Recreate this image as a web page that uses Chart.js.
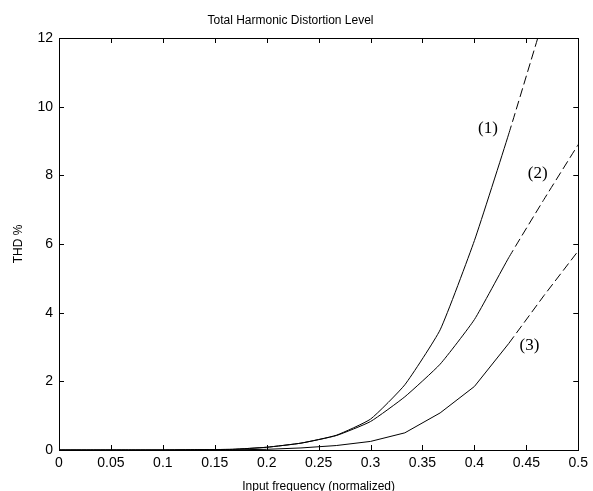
<!DOCTYPE html>
<html>
<head>
<meta charset="utf-8">
<title>Total Harmonic Distortion Level</title>
<script src="https://cdn.jsdelivr.net/npm/chart.js@4"></script>
<style>
    body { margin: 0; background: #fff; }
</style>
</head>
<body>
<canvas id="g_thd" width="593" height="491"></canvas>
<script>
// input frequency (normalized)
const freq = [0, 0.033, 0.067, 0.1, 0.133, 0.167, 0.2, 0.233, 0.267, 0.3, 0.333, 0.367, 0.4, 0.433, 0.467, 0.5];
// THD % for each curve
const thd1 = [0, 0, 0, 0, 0.01, 0.02, 0.08, 0.2, 0.43, 0.9, 1.9, 3.5, 6.1, 9.2, 12.6, null];
const thd2 = [0, 0, 0, 0, 0.01, 0.02, 0.08, 0.2, 0.42, 0.83, 1.55, 2.5, 3.8, 5.6, 7.3, 8.9];
const thd3 = [0, 0, 0, 0, 0, 0.005, 0.02, 0.06, 0.13, 0.25, 0.5, 1.08, 1.85, 3.1, 4.5, 5.8];
// curve labels (1) (2) (3), anchored in data units
const curveNames = ['(1)', '(2)', '(3)'];
const nameFreq = [0.413, 0.461, 0.453];
const nameThd = [9.37, 8.04, 3.04];
// past this frequency the curves are dashed
const dashFrom = 0.43;

const xTicks = [0, 0.05, 0.1, 0.15, 0.2, 0.25, 0.3, 0.35, 0.4, 0.45, 0.5];
const yTicks = [0, 2, 4, 6, 8, 10, 12];

function makeSerie(values, tension) {
    let pts = [];
    for (let i = 0; i < freq.length; i++) {
        pts.push({x: freq[i], y: values[i]});
    }
    return {
        data: pts,
        borderColor: '#000',
        borderWidth: 1,
        pointRadius: 0,
        tension: tension,
        fill: false,
        segment: {
            borderDash: ctx => ctx.p0.parsed.x >= dashFrom ? [9, 4] : undefined
        }
    };
}

// box round the plot + ticks pointing inside (matlab look)
const boxPlugin = {
    id: 'box',
    afterDraw(chart) {
        const ctx = chart.ctx;
        const a = chart.chartArea;
        const xs = chart.scales.x;
        const ys = chart.scales.y;
        ctx.save();
        ctx.strokeStyle = '#000';
        ctx.lineWidth = 1;
        ctx.strokeRect(Math.round(a.left) + 0.5, Math.round(a.top) + 0.5,
            Math.round(a.right - a.left), Math.round(a.bottom - a.top));
        ctx.beginPath();
        for (let i = 1; i < xTicks.length - 1; i++) {
            let px = Math.round(xs.getPixelForValue(xTicks[i])) + 0.5;
            ctx.moveTo(px, a.bottom);
            ctx.lineTo(px, a.bottom - 5);
            ctx.moveTo(px, a.top);
            ctx.lineTo(px, a.top + 5);
        }
        for (let i = 1; i < yTicks.length - 1; i++) {
            let py = Math.round(ys.getPixelForValue(yTicks[i])) + 0.5;
            ctx.moveTo(a.left, py);
            ctx.lineTo(a.left + 5, py);
            ctx.moveTo(a.right, py);
            ctx.lineTo(a.right - 5, py);
        }
        ctx.stroke();
        // noms des courbes
        ctx.fillStyle = '#000';
        ctx.font = '17px "Liberation Serif", "Times New Roman", serif';
        ctx.textAlign = 'center';
        ctx.textBaseline = 'middle';
        for (let i = 0; i < curveNames.length; i++) {
            ctx.fillText(curveNames[i], xs.getPixelForValue(nameFreq[i]), ys.getPixelForValue(nameThd[i]));
        }
        ctx.restore();
    }
};

function drawThd() {
    const context = document.getElementById('g_thd').getContext('2d');
    Chart.defaults.font.family = '"Liberation Sans", Arial, sans-serif';
    Chart.defaults.color = '#000';

    let conData = {
        datasets: [makeSerie(thd1, 0.15), makeSerie(thd2, 0.15), makeSerie(thd3, 0)]
    };
    let options = {
        responsive: false,
        animation: false,
        layout: {
            padding: {top: 0, right: 12, left: 0, bottom: 0}
        },
        plugins: {
            legend: {display: false},
            tooltip: {enabled: false},
            title: {
                display: true,
                text: 'Total Harmonic Distortion Level',
                color: '#000',
                font: {size: 12, weight: 'normal'},
                padding: {top: 13, bottom: 10.6}
            }
        },
        scales: {
            x: {
                type: 'linear',
                min: 0,
                max: 0.5,
                afterBuildTicks: scale => { scale.ticks = xTicks.map(v => ({value: v})); },
                afterFit: scale => { scale.height = 41; },
                grid: {display: false, drawTicks: false},
                border: {display: true, color: '#000', width: 1},
                ticks: {
                    padding: 5,
                    maxRotation: 0,
                    autoSkip: false,
                    font: {size: 14},
                    callback: v => String(v)
                },
                title: {
                    display: true,
                    text: 'Input frequency (normalized)',
                    font: {size: 12},
                    padding: {top: 0, bottom: -3}
                }
            },
            y: {
                type: 'linear',
                min: 0,
                max: 12,
                afterBuildTicks: scale => { scale.ticks = yTicks.map(v => ({value: v})); },
                afterFit: scale => { scale.width = 59; },
                grid: {display: false, drawTicks: false},
                border: {display: true, color: '#000', width: 1},
                ticks: {
                    padding: 6,
                    autoSkip: false,
                    font: {size: 14},
                    callback: v => String(v)
                },
                title: {
                    display: true,
                    text: 'THD %',
                    font: {size: 12},
                    padding: {top: 11, bottom: 0}
                }
            }
        }
    };
    let config = {
        type: 'line',
        data: conData,
        options: options,
        plugins: [boxPlugin]
    };
    let gThd = new Chart(context, config);
}

window.addEventListener('load', () => {
    drawThd();
});
</script>
</body>
</html>
